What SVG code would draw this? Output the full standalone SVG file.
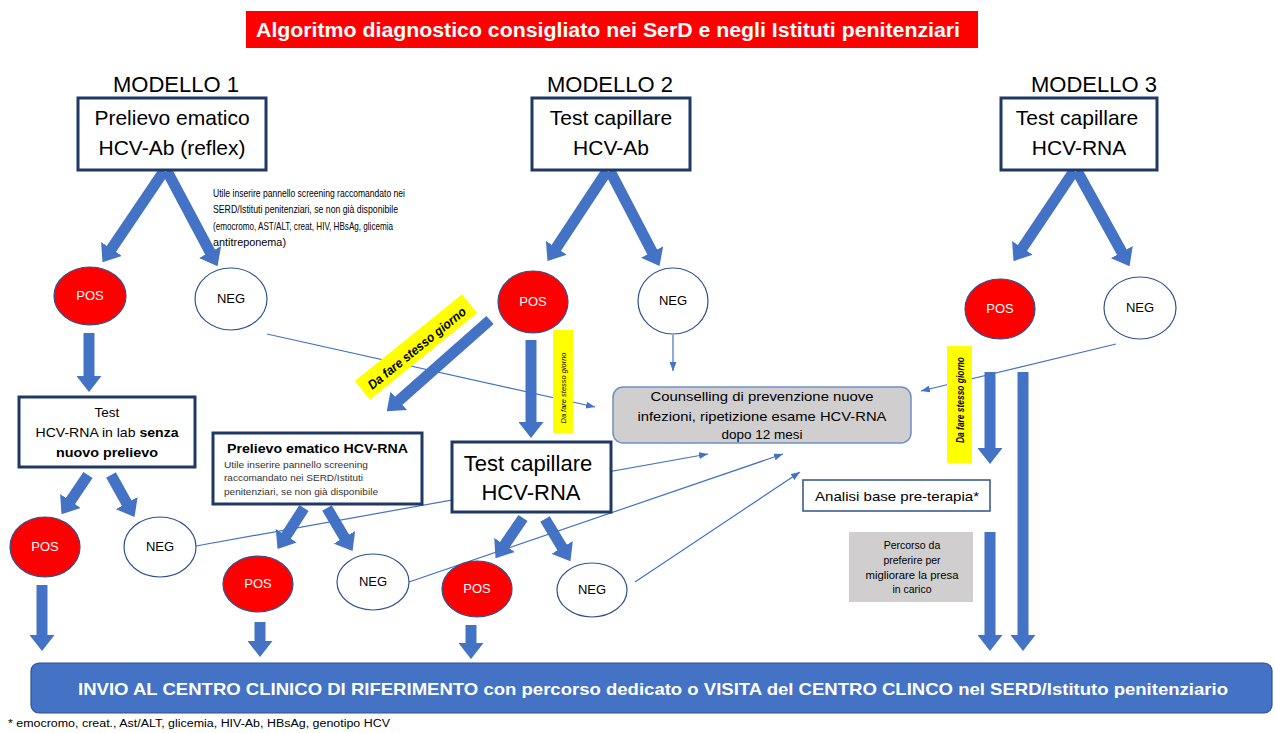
<svg xmlns="http://www.w3.org/2000/svg" width="1275" height="733" viewBox="0 0 1275 733">
<style>
text{font-family:"Liberation Sans",Arial,sans-serif;fill:#000}
.box{fill:#fff;stroke:#1F3864;stroke-width:3}
.pos{fill:#FF0000;stroke:#2F528F;stroke-width:1.2}
.neg{fill:#fff;stroke:#2F528F;stroke-width:1.2}
.pt{fill:#fff;font-size:13px;text-anchor:middle}
.nt{font-size:13px;text-anchor:middle}
.blk{stroke:#4472C4;stroke-width:11;fill:none;marker-end:url(#bh)}
.thin{stroke:#4472C4;stroke-width:1.2;fill:none;marker-end:url(#th)}
.big{font-size:21px;text-anchor:middle}
.mod{font-size:22px;text-anchor:middle}
.yl{fill:#FFFF00}
.c{text-anchor:middle}
</style>
<defs>
<marker id="bh" markerUnits="userSpaceOnUse" viewBox="0 0 16 25" markerWidth="16" markerHeight="25" refX="1" refY="12.5" orient="auto">
<path d="M0,0 L16,12.5 L0,25 Z" fill="#4472C4"/>
</marker>
<marker id="th" markerUnits="userSpaceOnUse" viewBox="0 0 9 7" markerWidth="9" markerHeight="7" refX="9" refY="3.5" orient="auto">
<path d="M0,0 L9,3.5 L0,7 Z" fill="#4472C4"/>
</marker>
</defs>
<rect width="1275" height="733" fill="#fff"/>

<g id="title">
<rect x="246" y="11" width="732" height="37" fill="#FF0000"/>
<text x="608" y="37" class="c" style="fill:#fff;font-weight:bold;font-size:20px" textLength="704" lengthAdjust="spacingAndGlyphs">Algoritmo diagnostico consigliato nei SerD e negli Istituti penitenziari</text>
</g>

<g id="labels">
<text x="176" y="92" class="mod">MODELLO 1</text>
<text x="610" y="92" class="mod">MODELLO 2</text>
<text x="1094" y="92" class="mod">MODELLO 3</text>
</g>

<g id="connectors">
<line class="blk" x1="164" y1="171" x2="110.9" y2="249.7"/>
<line class="blk" x1="167" y1="171" x2="210.5" y2="252.9"/>
<line class="blk" x1="607" y1="171" x2="555.8" y2="248.6"/>
<line class="blk" x1="610" y1="171" x2="652.6" y2="252.8"/>
<line class="blk" x1="1074" y1="171" x2="1021.9" y2="248.7"/>
<line class="blk" x1="1077" y1="171" x2="1122.3" y2="253"/>
<line class="blk" x1="89" y1="333" x2="89" y2="377"/>
<line class="blk" x1="88" y1="475" x2="69.9" y2="501.8"/>
<line class="blk" x1="111" y1="475" x2="127.2" y2="504"/>
<line class="blk" x1="42" y1="585" x2="42" y2="636"/>
<line class="blk" x1="490" y1="320" x2="398" y2="401.4"/>
<line class="blk" x1="531" y1="340" x2="531" y2="423"/>
<line class="blk" x1="304" y1="508" x2="285.7" y2="536.5"/>
<line class="blk" x1="327" y1="508" x2="344.9" y2="538.2"/>
<line class="blk" x1="523" y1="518" x2="504" y2="545.8"/>
<line class="blk" x1="545" y1="519" x2="562.7" y2="548.3"/>
<line class="blk" x1="260" y1="622" x2="260" y2="642"/>
<line class="blk" x1="471" y1="625" x2="471" y2="644"/>
<line class="blk" x1="990" y1="372" x2="990" y2="449"/>
<line class="blk" x1="990" y1="532" x2="990" y2="636"/>
<line class="blk" x1="1023" y1="372" x2="1023" y2="636"/>
<line class="thin" x1="267" y1="334" x2="595" y2="407"/>
<line class="thin" x1="673" y1="335" x2="673" y2="371"/>
<line class="thin" x1="1116" y1="344" x2="921" y2="391"/>
<line class="thin" x1="196" y1="546" x2="708" y2="454"/>
<line class="thin" x1="409" y1="582" x2="783" y2="454"/>
<line class="thin" x1="635" y1="582" x2="800" y2="472"/>
</g>

<g id="box1">
<rect class="box" x="78" y="98" width="188" height="72"/>
<text x="172" y="125" class="big">Prelievo ematico</text>
<text x="172" y="155" class="big">HCV-Ab (reflex)</text>
</g>
<g id="box2">
<rect class="box" x="532" y="98" width="158" height="72"/>
<text x="611" y="125" class="big">Test capillare</text>
<text x="611" y="155" class="big">HCV-Ab</text>
</g>
<g id="box3">
<rect class="box" x="1001" y="98" width="156" height="72"/>
<text x="1077" y="125" class="big">Test capillare</text>
<text x="1079" y="155" class="big">HCV-RNA</text>
</g>

<g id="note1" style="font-size:10.5px">
<text x="213" y="197" textLength="192" lengthAdjust="spacingAndGlyphs">Utile inserire pannello screening raccomandato nei</text>
<text x="213" y="213" textLength="185" lengthAdjust="spacingAndGlyphs">SERD/Istituti penitenziari, se non già disponibile</text>
<text x="213" y="230" textLength="180" lengthAdjust="spacingAndGlyphs">(emocromo, AST/ALT, creat, HIV, HBsAg, glicemia</text>
<text x="213" y="246" textLength="73" lengthAdjust="spacingAndGlyphs">antitreponema)</text>
</g>

<g id="pos1"><ellipse class="pos" cx="90" cy="296" rx="36" ry="29"/><text x="90" y="300" class="pt">POS</text></g>
<g id="neg1"><ellipse class="neg" cx="231" cy="299" rx="36" ry="31"/><text x="231" y="303" class="nt">NEG</text></g>
<g id="pos2"><ellipse class="pos" cx="533" cy="302" rx="35" ry="31"/><text x="533" y="306" class="pt">POS</text></g>
<g id="neg2"><ellipse class="neg" cx="673" cy="301" rx="35" ry="33"/><text x="673" y="305" class="nt">NEG</text></g>
<g id="pos3"><ellipse class="pos" cx="1000" cy="309" rx="35" ry="30"/><text x="1000" y="313" class="pt">POS</text></g>
<g id="neg3"><ellipse class="neg" cx="1140" cy="308" rx="36" ry="31"/><text x="1140" y="312" class="nt">NEG</text></g>

<g id="label-diag">
<g transform="translate(416,347) rotate(-39)">
<rect class="yl" x="-69" y="-12" width="138" height="24"/>
<text x="0" y="6" class="c" style="font-size:13px;font-weight:bold;font-style:italic" textLength="122" lengthAdjust="spacingAndGlyphs">Da fare stesso giorno</text>
</g>
</g>
<g id="label-m2">
<rect class="yl" x="553" y="330" width="20" height="103"/>
<text transform="translate(566,388) rotate(-90)" x="0" y="0" class="c" style="font-size:7.5px;font-style:italic" textLength="71" lengthAdjust="spacingAndGlyphs">Da fare stesso giorno</text>
</g>
<g id="label-m3">
<rect class="yl" x="947" y="346" width="25" height="117"/>
<text transform="translate(963.5,400) rotate(-90)" x="0" y="0" class="c" style="font-size:10.5px;font-weight:bold;font-style:italic" textLength="86" lengthAdjust="spacingAndGlyphs">Da fare stesso giorno</text>
</g>

<g id="test-lab">
<rect class="box" x="19" y="397" width="176" height="70"/>
<text x="107" y="417" class="c" style="font-size:13.5px">Test</text>
<text x="107" y="437" class="c" style="font-size:13.5px" textLength="143" lengthAdjust="spacingAndGlyphs">HCV-RNA in lab <tspan font-weight="bold">senza</tspan></text>
<text x="107" y="457" class="c" style="font-size:13.5px;font-weight:bold" textLength="102" lengthAdjust="spacingAndGlyphs">nuovo prelievo</text>
</g>

<g id="prelievo-rna">
<rect class="box" x="213" y="433" width="209" height="71"/>
<text x="227" y="453" style="font-size:13px;font-weight:bold" textLength="181" lengthAdjust="spacingAndGlyphs">Prelievo ematico HCV-RNA</text>
<text x="224" y="468" style="font-size:9.5px;fill:#333" textLength="144" lengthAdjust="spacingAndGlyphs">Utile inserire pannello screening</text>
<text x="224" y="481" style="font-size:9.5px;fill:#333" textLength="139" lengthAdjust="spacingAndGlyphs">raccomandato nei SERD/Istituti</text>
<text x="224" y="495" style="font-size:9.5px;fill:#333" textLength="154" lengthAdjust="spacingAndGlyphs">penitenziari, se non già disponibile</text>
</g>

<g id="testcap-rna">
<rect class="box" x="452" y="442" width="159" height="70"/>
<text x="528" y="471" class="c" style="font-size:22px">Test capillare</text>
<text x="531" y="500" class="c" style="font-size:22px">HCV-RNA</text>
</g>

<g id="counselling">
<rect x="613" y="387" width="298" height="56" rx="10" fill="#D0CECE" stroke="#6F8FC7" stroke-width="1.5"/>
<text x="762" y="401" class="c" style="font-size:13.5px" textLength="223" lengthAdjust="spacingAndGlyphs">Counselling di prevenzione nuove</text>
<text x="762" y="421" class="c" style="font-size:13.5px" textLength="249" lengthAdjust="spacingAndGlyphs">infezioni, ripetizione esame HCV-RNA</text>
<text x="762" y="439" class="c" style="font-size:13.5px">dopo 12 mesi</text>
</g>

<g id="analisi">
<rect x="803" y="480" width="187" height="31" fill="#fff" stroke="#2F528F" stroke-width="1.5"/>
<text x="815" y="501" style="font-size:13px" textLength="164" lengthAdjust="spacingAndGlyphs">Analisi base pre-terapia*</text>
</g>

<g id="percorso">
<rect x="849" y="532" width="124" height="70" fill="#D0CECE"/>
<text x="912" y="549" class="c" style="font-size:10.5px">Percorso da</text>
<text x="912" y="564" class="c" style="font-size:10.5px">preferire per</text>
<text x="912" y="579" class="c" style="font-size:10.5px" textLength="93" lengthAdjust="spacingAndGlyphs">migliorare la presa</text>
<text x="912" y="593" class="c" style="font-size:10.5px">in carico</text>
</g>

<g id="pos-r3a"><ellipse class="pos" cx="45" cy="547" rx="35" ry="30"/><text x="45" y="551" class="pt">POS</text></g>
<g id="neg-r3a"><ellipse class="neg" cx="160" cy="547" rx="36" ry="30"/><text x="160" y="551" class="nt">NEG</text></g>
<g id="pos-r3b"><ellipse class="pos" cx="258" cy="584" rx="35" ry="28"/><text x="258" y="588" class="pt">POS</text></g>
<g id="neg-r3b"><ellipse class="neg" cx="373" cy="582" rx="36" ry="28"/><text x="373" y="586" class="nt">NEG</text></g>
<g id="pos-r3c"><ellipse class="pos" cx="477" cy="589" rx="35" ry="28"/><text x="477" y="593" class="pt">POS</text></g>
<g id="neg-r3c"><ellipse class="neg" cx="592" cy="590" rx="35" ry="27"/><text x="592" y="594" class="nt">NEG</text></g>

<g id="invio">
<rect x="31" y="663" width="1241" height="50" rx="8" fill="#4472C4" stroke="#2F528F" stroke-width="1.2"/>
<text x="653" y="695" class="c" style="fill:#fff;font-weight:bold;font-size:17px" textLength="1150" lengthAdjust="spacingAndGlyphs">INVIO AL CENTRO CLINICO DI RIFERIMENTO con percorso dedicato o VISITA del CENTRO CLINCO nel SERD/Istituto penitenziario</text>
</g>

<g id="footnote">
<text x="8" y="727" style="font-size:10px" textLength="382" lengthAdjust="spacingAndGlyphs">* emocromo, creat., Ast/ALT, glicemia, HIV-Ab, HBsAg, genotipo HCV</text>
</g>
</svg>
